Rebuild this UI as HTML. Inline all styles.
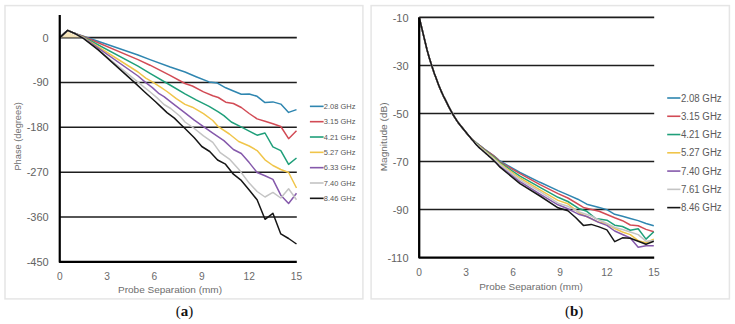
<!DOCTYPE html>
<html><head><meta charset="utf-8"><title>Phase and magnitude vs probe separation</title>
<style>
html,body{margin:0;padding:0;background:#fff;width:735px;height:324px;overflow:hidden}
svg{display:block}
text{font-family:"Liberation Sans",sans-serif;fill:#595959}
.tk{font-size:11px;fill:#636363}
.tkx{font-size:10.2px;fill:#6a6a6a}
.at{font-size:9.8px;fill:#6e6e6e}
.lgL{font-size:7.6px;fill:#555}
.lgR{font-size:10px;fill:#5a5a5a}
.cap{font-family:"Liberation Serif",serif;font-size:15px;fill:#111}
</style></head>
<body>
<svg width="735" height="324" viewBox="0 0 735 324">
<rect x="5" y="5.6" width="357.9" height="293.3" fill="none" stroke="#e5e5e5" stroke-width="1.5"/>
<rect x="371.1" y="5.6" width="358.3" height="293.3" fill="none" stroke="#e5e5e5" stroke-width="1.5"/>
<line x1="59.75" y1="37.6" x2="296.8" y2="37.6" stroke="#1e1e1e" stroke-width="1.6"/>
<line x1="59.75" y1="82.46" x2="296.8" y2="82.46" stroke="#1e1e1e" stroke-width="1.6"/>
<line x1="59.75" y1="127.32" x2="296.8" y2="127.32" stroke="#1e1e1e" stroke-width="1.6"/>
<line x1="59.75" y1="172.18" x2="296.8" y2="172.18" stroke="#1e1e1e" stroke-width="1.6"/>
<line x1="59.75" y1="217.04" x2="296.8" y2="217.04" stroke="#1e1e1e" stroke-width="1.6"/>
<polygon points="60.8,37.6 67.6,31.6 80.5,37.6" fill="#f6e3b4" opacity="0.9"/>
<polyline points="59.8,37.6 67.6,30.4 75.5,33.8 83.4,36.2 138.0,55.0 150.0,59.6 170.2,67.0 185.0,72.0 196.1,76.7 209.1,81.9 217.4,83.1 225.7,87.8 233.4,91.0 241.3,94.3 249.2,94.0 257.1,96.3 265.0,102.6 272.9,101.9 280.8,104.1 288.6,112.4 296.5,109.6" fill="none" stroke="#2f86b0" stroke-width="1.5" stroke-linejoin="round"/>
<polyline points="59.8,37.6 67.6,30.4 75.5,33.8 83.4,36.5 138.0,59.6 150.0,65.2 170.0,75.3 185.0,83.5 192.4,86.0 203.5,91.9 212.8,95.8 218.3,97.5 225.7,102.2 233.4,103.5 241.3,107.5 249.2,113.5 257.1,118.9 265.0,121.3 272.9,123.7 280.8,126.5 288.6,138.7 296.5,130.8" fill="none" stroke="#d24b55" stroke-width="1.5" stroke-linejoin="round"/>
<polyline points="59.8,37.6 67.6,30.4 75.5,33.8 83.4,37.0 138.0,66.1 150.0,73.3 170.0,85.0 185.0,93.8 196.1,99.8 209.1,106.3 218.3,111.9 223.9,115.6 231.3,122.0 240.6,126.7 249.2,131.1 257.1,135.2 265.0,133.0 272.9,146.9 280.8,150.6 288.6,164.4 296.5,158.0" fill="none" stroke="#1f9f7a" stroke-width="1.5" stroke-linejoin="round"/>
<polyline points="59.8,37.6 67.6,30.4 75.5,33.8 83.4,37.3 138.0,72.0 145.8,78.1 153.6,82.6 161.3,87.6 167.0,91.5 176.3,98.7 185.0,104.4 192.4,107.2 203.5,113.7 212.8,120.5 218.3,126.7 229.4,134.0 238.7,141.5 249.2,146.0 257.1,150.6 265.0,159.8 272.9,165.5 280.8,169.5 288.6,172.5 296.5,188.0" fill="none" stroke="#f0c54a" stroke-width="1.5" stroke-linejoin="round"/>
<polyline points="59.8,37.6 67.6,30.4 75.5,33.8 83.4,37.6 138.0,76.0 145.8,82.6 152.4,87.6 159.1,93.7 164.0,96.6 172.6,103.3 185.0,112.8 194.3,120.2 203.5,126.7 212.8,133.1 223.9,140.6 233.4,149.5 241.3,153.5 249.2,162.6 257.1,172.5 265.0,175.7 272.9,179.4 280.8,195.2 288.6,203.5 296.5,193.3" fill="none" stroke="#8559ab" stroke-width="1.5" stroke-linejoin="round"/>
<polyline points="59.8,37.6 67.6,30.4 75.5,33.8 83.4,37.9 138.0,82.2 144.7,87.6 150.2,92.0 156.9,97.6 164.0,104.5 170.7,108.5 180.0,116.3 185.0,122.0 194.3,128.5 203.5,135.9 212.8,142.4 220.2,152.6 229.4,159.1 238.7,169.3 249.2,183.1 257.1,191.5 265.0,197.0 272.9,192.4 280.8,198.0 288.6,188.7 296.5,199.8" fill="none" stroke="#c4c4c4" stroke-width="1.5" stroke-linejoin="round"/>
<polyline points="59.8,37.6 67.6,30.4 75.5,33.8 83.4,38.3 98.0,49.6 134.7,82.6 144.7,92.0 155.8,102.0 161.5,107.4 167.0,112.6 174.4,118.1 180.0,123.7 185.0,128.5 194.3,137.8 201.8,146.5 209.7,151.5 217.6,160.0 225.5,164.2 233.4,174.2 241.3,180.4 249.2,190.0 257.1,199.8 265.0,219.3 272.9,213.3 280.8,233.9 288.6,238.5 296.5,244.0" fill="none" stroke="#161616" stroke-width="1.5" stroke-linejoin="round"/>
<polyline points="59.75,15 59.75,261.9 296.8,261.9" fill="none" stroke="#000" stroke-width="2.2" stroke-linejoin="round"/>
<line x1="419.2" y1="17.4" x2="654.1999999999999" y2="17.4" stroke="#1e1e1e" stroke-width="1.6"/>
<line x1="419.2" y1="65.43" x2="654.1999999999999" y2="65.43" stroke="#1e1e1e" stroke-width="1.6"/>
<line x1="419.2" y1="113.46" x2="654.1999999999999" y2="113.46" stroke="#1e1e1e" stroke-width="1.6"/>
<line x1="419.2" y1="161.49" x2="654.1999999999999" y2="161.49" stroke="#1e1e1e" stroke-width="1.6"/>
<line x1="419.2" y1="209.52" x2="654.1999999999999" y2="209.52" stroke="#1e1e1e" stroke-width="1.6"/>
<polyline points="419.2,17.4 427.0,49.8 427.6,51.9 428.4,54.8 429.4,58.2 430.5,61.7 431.5,64.9 432.5,67.9 433.5,70.9 434.5,73.9 435.6,76.8 436.6,79.6 437.6,82.3 438.6,84.9 439.6,87.4 440.6,89.8 441.6,92.1 442.6,94.3 443.5,96.3 444.5,98.2 445.5,100.2 446.5,102.2 447.6,104.4 448.7,106.6 449.9,108.9 451.1,111.1 452.2,113.1 453.3,115.0 454.4,116.8 455.4,118.4 456.5,120.1 457.5,121.6 458.5,123.0 459.5,124.3 460.4,125.5 461.5,126.8 462.7,128.3 464.1,130.0 465.6,132.0 467.2,134.0 468.8,135.9 470.4,137.6 471.9,139.1 473.5,140.4 475.0,141.6 476.5,142.8 478.1,144.0 479.7,145.3 481.3,146.5 482.9,147.8 484.4,149.0 486.0,150.2 487.6,151.3 489.1,152.4 490.7,153.5 492.2,154.5 493.6,155.6 495.1,156.8 496.6,158.0 498.0,159.2 499.1,160.3 500.0,161.0 520.0,172.5 540.0,182.3 558.0,190.6 567.9,194.9 577.8,199.2 586.8,204.2 599.1,207.5 606.9,209.6 614.7,214.3 622.5,216.3 630.3,218.5 638.2,220.6 646.0,223.5 653.8,225.7" fill="none" stroke="#2f86b0" stroke-width="1.5" stroke-linejoin="round"/>
<polyline points="419.2,17.4 427.0,49.8 427.6,51.9 428.4,54.8 429.4,58.2 430.5,61.7 431.5,64.9 432.5,67.9 433.5,70.9 434.5,73.9 435.6,76.8 436.6,79.6 437.6,82.3 438.6,84.9 439.6,87.4 440.6,89.8 441.6,92.1 442.6,94.3 443.5,96.3 444.5,98.2 445.5,100.2 446.5,102.2 447.6,104.4 448.7,106.6 449.9,108.9 451.1,111.1 452.2,113.1 453.3,115.0 454.4,116.8 455.4,118.4 456.5,120.1 457.5,121.6 458.5,123.0 459.5,124.3 460.4,125.5 461.5,126.8 462.7,128.3 464.1,130.0 465.6,132.0 467.2,133.9 468.8,135.9 470.4,137.6 471.9,139.1 473.5,140.5 475.0,141.8 476.5,143.0 478.1,144.3 479.7,145.6 481.3,146.9 482.9,148.1 484.4,149.3 486.0,150.5 487.6,151.6 489.1,152.7 490.7,153.7 492.2,154.8 493.6,155.9 495.1,157.1 496.6,158.5 498.0,159.8 499.1,161.0 500.0,161.8 520.0,173.7 540.0,184.6 558.0,193.6 567.9,198.0 583.4,207.4 599.1,211.2 606.9,214.5 614.7,217.8 622.5,220.7 630.3,225.0 638.2,225.7 646.0,229.4 653.8,231.7" fill="none" stroke="#d24b55" stroke-width="1.5" stroke-linejoin="round"/>
<polyline points="419.2,17.4 427.0,49.8 427.6,51.9 428.4,54.8 429.4,58.2 430.5,61.7 431.5,64.9 432.5,67.9 433.5,70.9 434.5,73.9 435.6,76.8 436.6,79.6 437.6,82.3 438.6,84.9 439.6,87.4 440.6,89.8 441.6,92.1 442.6,94.3 443.5,96.3 444.5,98.2 445.5,100.2 446.5,102.2 447.6,104.4 448.7,106.6 449.9,108.9 451.1,111.1 452.2,113.1 453.3,115.0 454.4,116.8 455.4,118.4 456.5,120.1 457.5,121.6 458.5,123.0 459.5,124.3 460.4,125.5 461.5,126.8 462.7,128.3 464.1,130.0 465.6,131.9 467.2,133.9 468.8,135.8 470.4,137.6 471.9,139.2 473.5,140.7 475.0,142.1 476.5,143.4 478.1,144.8 479.7,146.1 481.3,147.5 482.9,148.7 484.4,150.0 486.0,151.2 487.6,152.4 489.1,153.5 490.7,154.7 492.2,155.8 493.6,156.9 495.1,158.1 496.6,159.5 498.0,160.7 499.1,161.8 500.0,162.6 520.0,176.2 540.0,187.3 558.0,197.3 567.9,201.5 579.4,208.8 586.8,211.3 595.7,218.5 606.9,220.2 614.7,225.2 622.5,226.5 630.3,230.2 638.2,228.7 646.0,239.1 653.8,231.7" fill="none" stroke="#1f9f7a" stroke-width="1.5" stroke-linejoin="round"/>
<polyline points="419.2,17.4 427.0,49.8 427.6,51.9 428.4,54.8 429.4,58.2 430.5,61.7 431.5,64.9 432.5,67.9 433.5,70.9 434.5,73.9 435.6,76.8 436.6,79.6 437.6,82.3 438.6,84.9 439.6,87.4 440.6,89.8 441.6,92.1 442.6,94.3 443.5,96.3 444.5,98.2 445.5,100.2 446.5,102.2 447.6,104.4 448.7,106.6 449.9,108.9 451.1,111.1 452.2,113.1 453.3,115.0 454.4,116.8 455.4,118.4 456.5,120.1 457.5,121.6 458.5,123.0 459.5,124.3 460.4,125.5 461.5,126.8 462.7,128.3 464.1,130.0 465.6,131.9 467.2,133.9 468.8,135.8 470.4,137.6 471.9,139.2 473.5,140.8 475.0,142.3 476.5,143.8 478.1,145.2 479.7,146.6 481.3,148.0 482.9,149.3 484.4,150.6 486.0,151.9 487.6,153.1 489.1,154.4 490.7,155.6 492.2,156.7 493.6,157.9 495.1,159.2 496.6,160.5 498.0,161.7 499.1,162.8 500.0,163.6 520.0,178.0 540.0,189.8 558.0,200.4 567.9,203.8 579.4,213.2 589.8,218.0 597.2,221.7 606.9,223.8 614.7,228.5 622.5,232.0 630.3,234.6 638.2,240.6 646.0,242.8 653.8,239.1" fill="none" stroke="#f0c54a" stroke-width="1.5" stroke-linejoin="round"/>
<polyline points="419.2,17.4 427.0,49.8 427.6,51.9 428.4,54.8 429.4,58.2 430.5,61.7 431.5,64.9 432.5,67.9 433.5,70.9 434.5,73.9 435.6,76.8 436.6,79.6 437.6,82.3 438.6,84.9 439.6,87.4 440.6,89.8 441.6,92.1 442.6,94.3 443.5,96.3 444.5,98.2 445.5,100.2 446.5,102.2 447.6,104.4 448.7,106.6 449.9,108.9 451.1,111.1 452.2,113.1 453.3,115.0 454.4,116.8 455.4,118.4 456.5,120.1 457.5,121.6 458.5,123.0 459.5,124.3 460.4,125.5 461.5,126.8 462.7,128.3 464.1,130.0 465.6,131.9 467.2,133.8 468.8,135.8 470.4,137.6 471.9,139.4 473.5,141.1 475.0,142.8 476.5,144.4 478.1,146.0 479.7,147.5 481.3,148.9 482.9,150.3 484.4,151.6 486.0,153.0 487.6,154.4 489.1,155.7 490.7,157.1 492.2,158.4 493.6,159.7 495.1,161.1 496.6,162.5 498.0,163.8 499.1,165.0 500.0,165.8 520.0,181.7 540.0,194.1 558.0,204.8 567.9,208.8 579.4,214.6 586.8,216.5 598.7,222.4 606.9,225.4 614.7,231.0 622.5,234.5 630.3,238.0 638.2,247.2 646.0,245.7 653.8,245.7" fill="none" stroke="#8559ab" stroke-width="1.5" stroke-linejoin="round"/>
<polyline points="419.2,17.4 427.0,49.8 427.6,51.9 428.4,54.8 429.4,58.2 430.5,61.7 431.5,64.9 432.5,67.9 433.5,70.9 434.5,73.9 435.6,76.8 436.6,79.6 437.6,82.3 438.6,84.9 439.6,87.4 440.6,89.8 441.6,92.1 442.6,94.3 443.5,96.3 444.5,98.2 445.5,100.2 446.5,102.2 447.6,104.4 448.7,106.6 449.9,108.9 451.1,111.1 452.2,113.1 453.3,115.0 454.4,116.8 455.4,118.4 456.5,120.1 457.5,121.6 458.5,123.0 459.5,124.3 460.4,125.5 461.5,126.8 462.7,128.3 464.1,130.0 465.6,131.9 467.2,133.8 468.8,135.8 470.4,137.6 471.9,139.3 473.5,140.9 475.0,142.5 476.5,144.1 478.1,145.6 479.7,147.1 481.3,148.5 482.9,149.8 484.4,151.2 486.0,152.5 487.6,153.8 489.1,155.1 490.7,156.3 492.2,157.6 493.6,158.8 495.1,160.1 496.6,161.4 498.0,162.7 499.1,163.8 500.0,164.6 520.0,179.9 540.0,191.6 558.0,203.2 567.9,206.3 579.4,212.0 591.2,216.0 599.1,220.0 606.9,223.5 614.7,227.5 622.5,229.5 630.3,232.0 638.2,234.6 646.0,241.3 653.8,240.6" fill="none" stroke="#c4c4c4" stroke-width="1.5" stroke-linejoin="round"/>
<polyline points="419.2,17.4 427.0,49.8 427.6,51.9 428.4,54.8 429.4,58.2 430.5,61.7 431.5,64.9 432.5,67.9 433.5,70.9 434.5,73.9 435.6,76.8 436.6,79.6 437.6,82.3 438.6,84.9 439.6,87.4 440.6,89.8 441.6,92.1 442.6,94.3 443.5,96.3 444.5,98.2 445.5,100.2 446.5,102.2 447.6,104.4 448.7,106.6 449.9,108.9 451.1,111.1 452.2,113.1 453.3,115.0 454.4,116.8 455.4,118.4 456.5,120.1 457.5,121.6 458.5,123.0 459.5,124.3 460.4,125.5 461.5,126.8 462.7,128.3 464.1,130.0 465.6,131.8 467.2,133.8 468.8,135.7 470.4,137.6 471.9,139.5 473.5,141.3 475.0,143.2 476.5,144.9 478.1,146.6 479.7,148.1 481.3,149.5 482.9,150.9 484.4,152.2 486.0,153.6 487.6,155.0 489.1,156.4 490.7,157.8 492.2,159.1 493.6,160.5 495.1,162.0 496.6,163.5 498.0,165.0 499.1,166.3 500.0,167.2 520.0,183.6 540.0,196.0 558.0,207.8 567.9,210.8 575.6,217.5 583.4,225.4 591.2,224.4 599.1,226.9 606.9,229.9 614.7,241.7 622.5,237.8 630.3,238.3 638.2,241.3 646.0,244.3 653.8,241.3" fill="none" stroke="#161616" stroke-width="1.5" stroke-linejoin="round"/>
<polyline points="419.2,17.4 419.2,257.55 654.1999999999999,257.55" fill="none" stroke="#000" stroke-width="2.3" stroke-linejoin="round"/>
<text x="48.7" y="41.55" text-anchor="end" class="tk">0</text>
<text x="48.7" y="86.41" text-anchor="end" class="tk">-90</text>
<text x="48.7" y="131.27" text-anchor="end" class="tk">-180</text>
<text x="48.7" y="176.13" text-anchor="end" class="tk">-270</text>
<text x="48.7" y="220.99" text-anchor="end" class="tk">-360</text>
<text x="48.7" y="265.85" text-anchor="end" class="tk">-450</text>
<text x="59.8" y="279.8" text-anchor="middle" class="tkx">0</text>
<text x="107.1" y="279.8" text-anchor="middle" class="tkx">3</text>
<text x="154.4" y="279.8" text-anchor="middle" class="tkx">6</text>
<text x="201.8" y="279.8" text-anchor="middle" class="tkx">9</text>
<text x="249.2" y="279.8" text-anchor="middle" class="tkx">12</text>
<text x="296.5" y="279.8" text-anchor="middle" class="tkx">15</text>
<text x="408.6" y="21.60" text-anchor="end" class="tk">-10</text>
<text x="408.6" y="69.63" text-anchor="end" class="tk">-30</text>
<text x="408.6" y="117.66" text-anchor="end" class="tk">-50</text>
<text x="408.6" y="165.69" text-anchor="end" class="tk">-70</text>
<text x="408.6" y="213.72" text-anchor="end" class="tk">-90</text>
<text x="408.6" y="261.75" text-anchor="end" class="tk">-110</text>
<text x="419.2" y="275.5" text-anchor="middle" class="tkx">0</text>
<text x="466.1" y="275.5" text-anchor="middle" class="tkx">3</text>
<text x="513.1" y="275.5" text-anchor="middle" class="tkx">6</text>
<text x="560.0" y="275.5" text-anchor="middle" class="tkx">9</text>
<text x="607.0" y="275.5" text-anchor="middle" class="tkx">12</text>
<text x="653.9" y="275.5" text-anchor="middle" class="tkx">15</text>
<text x="118.0" y="292.7" class="at" textLength="104" lengthAdjust="spacingAndGlyphs">Probe Separation (mm)</text>
<text x="479.2" y="290.3" class="at" textLength="103.6" lengthAdjust="spacingAndGlyphs">Probe Separation (mm)</text>
<text transform="translate(20.7,170.6) rotate(-90)" class="at" textLength="68.5" lengthAdjust="spacingAndGlyphs">Phase (degrees)</text>
<text transform="translate(386.9,171.3) rotate(-90)" class="at" textLength="68.8" lengthAdjust="spacingAndGlyphs">Magnitude (dB)</text>
<line x1="309.9" y1="106.35" x2="323.6" y2="106.35" stroke="#2f86b0" stroke-width="1.6"/>
<text x="323.8" y="109.10" class="lgL" textLength="31.6" lengthAdjust="spacingAndGlyphs">2.08 GHz</text>
<line x1="309.9" y1="121.68" x2="323.6" y2="121.68" stroke="#d24b55" stroke-width="1.6"/>
<text x="323.8" y="124.43" class="lgL" textLength="31.6" lengthAdjust="spacingAndGlyphs">3.15 GHz</text>
<line x1="309.9" y1="137.01" x2="323.6" y2="137.01" stroke="#1f9f7a" stroke-width="1.6"/>
<text x="323.8" y="139.76" class="lgL" textLength="31.6" lengthAdjust="spacingAndGlyphs">4.21 GHz</text>
<line x1="309.9" y1="152.34" x2="323.6" y2="152.34" stroke="#f0c54a" stroke-width="1.6"/>
<text x="323.8" y="155.09" class="lgL" textLength="31.6" lengthAdjust="spacingAndGlyphs">5.27 GHz</text>
<line x1="309.9" y1="167.67" x2="323.6" y2="167.67" stroke="#8559ab" stroke-width="1.6"/>
<text x="323.8" y="170.42" class="lgL" textLength="31.6" lengthAdjust="spacingAndGlyphs">6.33 GHz</text>
<line x1="309.9" y1="183.00" x2="323.6" y2="183.00" stroke="#c4c4c4" stroke-width="1.6"/>
<text x="323.8" y="185.75" class="lgL" textLength="31.6" lengthAdjust="spacingAndGlyphs">7.40 GHz</text>
<line x1="309.9" y1="198.33" x2="323.6" y2="198.33" stroke="#161616" stroke-width="1.6"/>
<text x="323.8" y="201.08" class="lgL" textLength="31.6" lengthAdjust="spacingAndGlyphs">8.46 GHz</text>
<line x1="667.2" y1="98.00" x2="680.4" y2="98.00" stroke="#2f86b0" stroke-width="1.6"/>
<text x="680.9" y="101.60" class="lgR" textLength="40.8" lengthAdjust="spacingAndGlyphs">2.08 GHz</text>
<line x1="667.2" y1="116.27" x2="680.4" y2="116.27" stroke="#d24b55" stroke-width="1.6"/>
<text x="680.9" y="119.87" class="lgR" textLength="40.8" lengthAdjust="spacingAndGlyphs">3.15 GHz</text>
<line x1="667.2" y1="134.54" x2="680.4" y2="134.54" stroke="#1f9f7a" stroke-width="1.6"/>
<text x="680.9" y="138.14" class="lgR" textLength="40.8" lengthAdjust="spacingAndGlyphs">4.21 GHz</text>
<line x1="667.2" y1="152.81" x2="680.4" y2="152.81" stroke="#f0c54a" stroke-width="1.6"/>
<text x="680.9" y="156.41" class="lgR" textLength="40.8" lengthAdjust="spacingAndGlyphs">5.27 GHz</text>
<line x1="667.2" y1="171.08" x2="680.4" y2="171.08" stroke="#8559ab" stroke-width="1.6"/>
<text x="680.9" y="174.68" class="lgR" textLength="40.8" lengthAdjust="spacingAndGlyphs">7.40 GHz</text>
<line x1="667.2" y1="189.35" x2="680.4" y2="189.35" stroke="#c4c4c4" stroke-width="1.6"/>
<text x="680.9" y="192.95" class="lgR" textLength="40.8" lengthAdjust="spacingAndGlyphs">7.61 GHz</text>
<line x1="667.2" y1="207.62" x2="680.4" y2="207.62" stroke="#161616" stroke-width="1.6"/>
<text x="680.9" y="211.22" class="lgR" textLength="40.8" lengthAdjust="spacingAndGlyphs">8.46 GHz</text>
<text x="184.4" y="316.1" text-anchor="middle" class="cap">(<tspan font-weight="bold">a</tspan>)</text>
<text x="574.2" y="316.1" text-anchor="middle" class="cap">(<tspan font-weight="bold">b</tspan>)</text>
</svg>
</body></html>
